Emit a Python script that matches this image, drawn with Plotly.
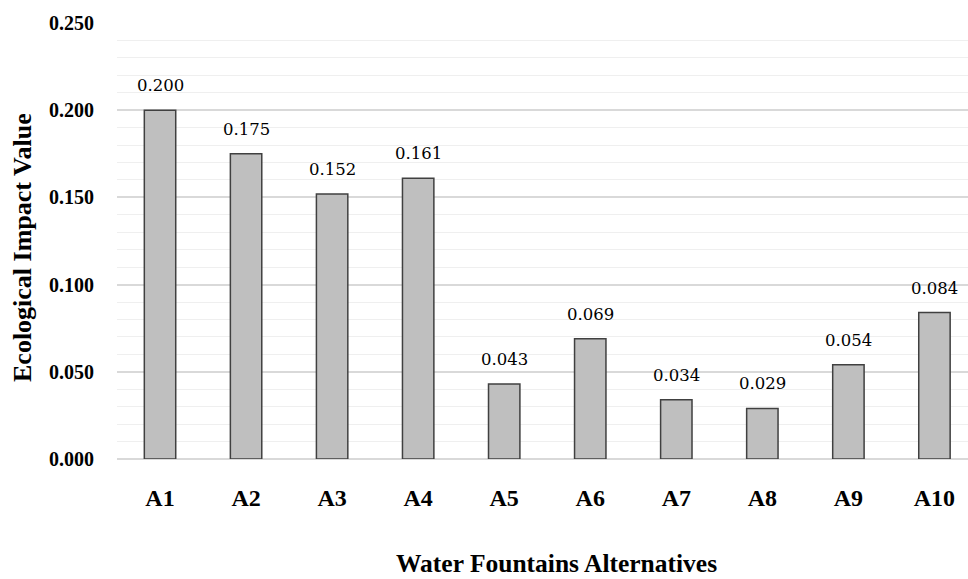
import plotly.graph_objects as go

categories = ["A1", "A2", "A3", "A4", "A5", "A6", "A7", "A8", "A9", "A10"]
impact_values = [0.200, 0.175, 0.152, 0.161, 0.043, 0.069, 0.034, 0.029, 0.054, 0.084]
y_tick_values = [0.0, 0.05, 0.10, 0.15, 0.20, 0.25]
y_tick_labels = ["0.000", "0.050", "0.100", "0.150", "0.200", "0.250"]

FONT = "Liberation Serif"
LABEL_FONT = "DejaVu Serif"

fig = go.Figure()
fig.add_trace(go.Bar(
    x=categories,
    y=impact_values,
    marker=dict(color="#bfbfbf", line=dict(color="#404040", width=1.5)),
    width=0.365,
    hoverinfo="x+y",
))

# value labels above each bar
for cat, val in zip(categories, impact_values):
    fig.add_annotation(
        x=cat, y=val, text=f"{val:.3f}", showarrow=False,
        xref="x", yref="y", yanchor="bottom", yshift=13,
        font=dict(family=LABEL_FONT, size=16.5, color="#000000"),
    )

# axis titles
fig.add_annotation(
    x=0.5, y=0, xref="paper", yref="paper", text="<b>Water Fountains Alternatives</b>",
    showarrow=False, yanchor="middle", yshift=-104, xshift=14,
    font=dict(family=FONT, size=25.5, color="#000000"),
)
fig.add_annotation(
    x=0, y=0.5, xref="paper", yref="paper", text="<b>Ecological Impact Value</b>",
    showarrow=False, textangle=-90, xanchor="center", yanchor="middle",
    xshift=-95, yshift=-7,
    font=dict(family=FONT, size=26, color="#000000"),
)

fig.update_layout(
    width=968, height=579,
    margin=dict(l=117, r=0, t=23, b=120),
    paper_bgcolor="white", plot_bgcolor="white",
    showlegend=False,
    font=dict(family=FONT, color="#000000"),
    xaxis=dict(
        range=[-0.5, 9.39],
        showgrid=False, zeroline=False, showline=False, ticks="",
        tickfont=dict(family=FONT, size=24),
        tickprefix="<b>", ticksuffix="</b>",
        ticklabelstandoff=22,
    ),
    yaxis=dict(
        range=[0, 0.25],
        tickvals=y_tick_values, ticktext=[f"<b>{t}</b>" for t in y_tick_labels],
        tickfont=dict(family=FONT, size=20),
        showgrid=True, gridcolor="#d9d9d9", gridwidth=1.5,
        minor=dict(dtick=0.01, showgrid=True, gridcolor="#efefef", gridwidth=1.2),
        zeroline=True, zerolinecolor="#d9d9d9", zerolinewidth=1.5,
        showline=False, ticks="",
        ticklabelstandoff=22,
    ),
)

fig.write_html("out.html")
